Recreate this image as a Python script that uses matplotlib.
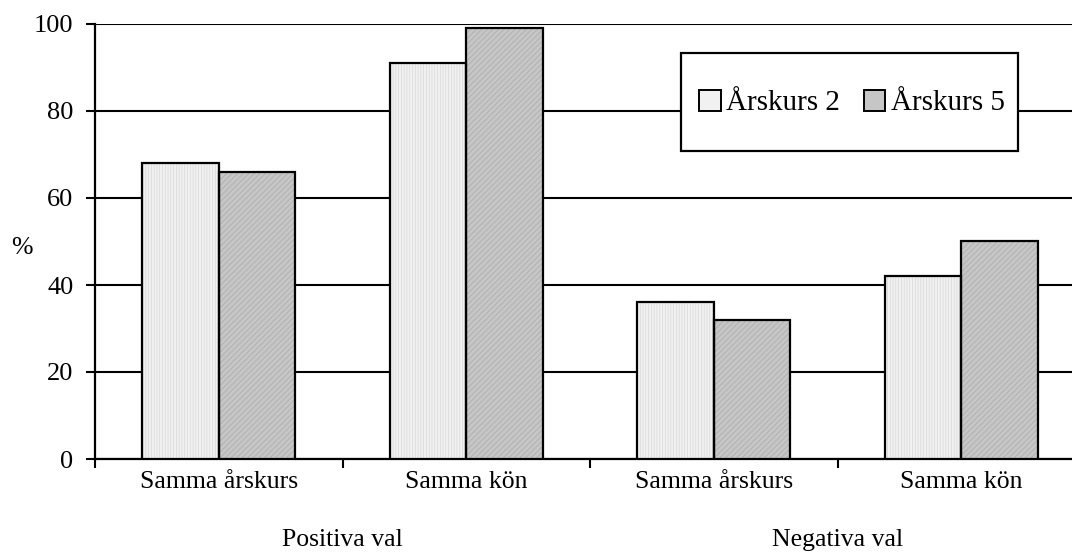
import numpy as np
import matplotlib.pyplot as plt
from matplotlib.patches import Patch, Rectangle
from matplotlib.transforms import blended_transform_factory

plt.rcParams['font.family'] = ['Liberation Serif', 'DejaVu Serif']
plt.rcParams['hatch.linewidth'] = 0.5

# data
categories = ['Samma årskurs', 'Samma kön', 'Samma årskurs', 'Samma kön']
groups = ['Positiva val', 'Negativa val']
series = ['Årskurs 2', 'Årskurs 5']
arskurs2 = [68, 91, 36, 42]
arskurs5 = [66, 99, 32, 50]

fig = plt.figure(figsize=(10.72, 5.57), dpi=100)
ax = fig.add_axes([95 / 1072, 98 / 557, 990 / 1072, 435 / 557])

x = np.arange(len(categories))
w = 0.31
styles = [('#f1f1f1', '#d6d6d6', '||||||'), ('#c6c6c6', '#aaaaaa', '//////')]
for vals, off, (fc, hc, hatch) in zip([arskurs2, arskurs5], [-w / 2, w / 2], styles):
    ax.bar(x + off, vals, w, color=fc, edgecolor=hc, hatch=hatch, linewidth=0, zorder=3)
    ax.bar(x + off, vals, w, fill=False, edgecolor='black', linewidth=1.6, zorder=4)

ax.set_xlim(-0.5, len(categories) - 0.5)
ax.set_ylim(0, 100)
ax.set_yticks(range(0, 101, 20))
ax.yaxis.grid(True, color='black', linewidth=1.5, zorder=0)
ax.set_axisbelow(True)
for s in ['top', 'right']:
    ax.spines[s].set_visible(False)
ax.spines['left'].set_linewidth(1.6)
ax.spines['bottom'].set_linewidth(1.6)
ax.tick_params(axis='y', length=6.5, width=1.5, pad=9, labelsize=19)

ax.set_xticks(x)
ax.set_xticklabels(categories, fontsize=18.5)
ax.tick_params(axis='x', which='major', length=0, pad=9)
ax.set_xticks(np.arange(-0.5, len(categories), 1), minor=True)
ax.tick_params(axis='x', which='minor', length=6.5, width=1.5)

tr = blended_transform_factory(ax.transData, fig.transFigure)
for i, g in enumerate(groups):
    ax.text(2 * i + 0.5, 1 - 540 / 557, g, transform=tr, ha='center', va='center', fontsize=18.5)

fig.text(22 / 1072, 1 - 248 / 557, '%', ha='center', va='center', fontsize=18.5)

# legend box
box = Rectangle((681 / 1072, 1 - 151 / 557), 337 / 1072, 98 / 557, transform=fig.transFigure,
                facecolor='white', edgecolor='black', linewidth=1.6, zorder=5)
ax.add_patch(box)
box.set_clip_on(False)
handles = [Patch(facecolor=fc, edgecolor='black', linewidth=1.4) for fc, hc, hatch in styles]
leg = ax.legend(handles, series, ncol=2, frameon=False, loc='center',
                bbox_to_anchor=(852 / 1072, 1 - 103 / 557), bbox_transform=fig.transFigure,
                fontsize=21, handlelength=0.75, handleheight=0.75, handletextpad=0.2,
                columnspacing=0.8)
leg.set_zorder(6)

fig.savefig('out.png', dpi=100)
